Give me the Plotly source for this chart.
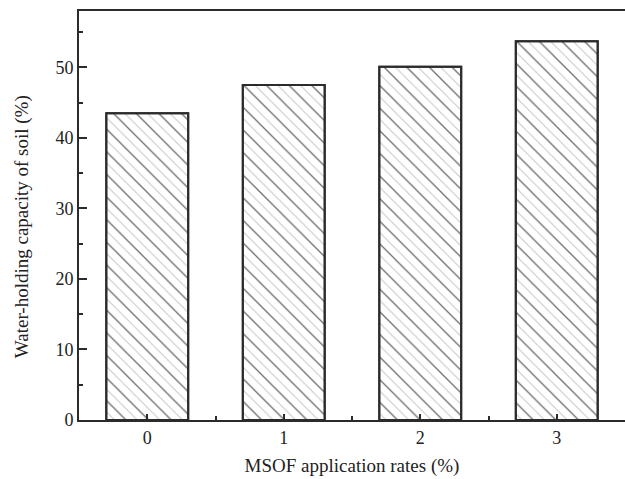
import plotly.graph_objects as go

categories = [0, 1, 2, 3]
values = [43.5, 47.5, 50.1, 53.7]
tick_labels = ["0", "1", "2", "3"]
x_title = "MSOF application rates (%)"
y_title = "Water-holding capacity of soil (%)"

font_family = "Liberation Serif"
dark = "#2b2b2b"

fig = go.Figure()
# light hatch lines
fig.add_trace(go.Bar(
    x=categories, y=values, width=0.6,
    marker=dict(
        color="white",
        line=dict(color=dark, width=2),
        pattern=dict(shape="\\", fgcolor="#8a8a8a", bgcolor="white", size=8, solidity=0.12),
    ),
    showlegend=False,
))
# dark hatch lines (every other line)
fig.add_trace(go.Bar(
    x=categories, y=values, width=0.6,
    marker=dict(
        color="rgba(0,0,0,0)",
        line=dict(color=dark, width=2),
        pattern=dict(shape="\\", fgcolor="#111111", bgcolor="rgba(0,0,0,0)", size=16, solidity=0.08),
    ),
    showlegend=False, hoverinfo="skip",
))

fig.update_layout(
    barmode="overlay",
    width=625, height=479,
    margin=dict(l=79, r=0, t=11, b=59),
    paper_bgcolor="white", plot_bgcolor="white",
    font=dict(family=font_family, size=18, color="#222222"),
    annotations=[
        dict(text=y_title, xref="paper", yref="paper", x=-0.104, y=0.472,
             xanchor="center", yanchor="middle", textangle=-90, showarrow=False,
             font=dict(family=font_family, size=19, color="#222222")),
    ],
)
fig.update_xaxes(
    range=[-0.5, 3.5], tickvals=categories, ticktext=tick_labels,
    ticks="inside", ticklen=6, tickwidth=1.5, tickcolor=dark,
    minor=dict(tickvals=[-0.5, 0.5, 1.5, 2.5, 3.5], ticks="inside", ticklen=4, tickcolor=dark, tickwidth=1.5),
    showline=True, linecolor=dark, linewidth=2, mirror=True,
    showgrid=False, zeroline=False,
    title=dict(text=x_title, standoff=12, font=dict(family=font_family, size=19, color="#222222")),
)
fig.update_yaxes(
    range=[0, 58], tickvals=[0, 10, 20, 30, 40, 50],
    ticks="inside", ticklen=8, tickwidth=1.5, tickcolor=dark,
    minor=dict(dtick=5, ticks="inside", ticklen=4, tickcolor=dark, tickwidth=1.5),
    showline=True, linecolor=dark, linewidth=2, mirror=False,
    showgrid=False, zeroline=False,
)

fig.write_html("out.html")
